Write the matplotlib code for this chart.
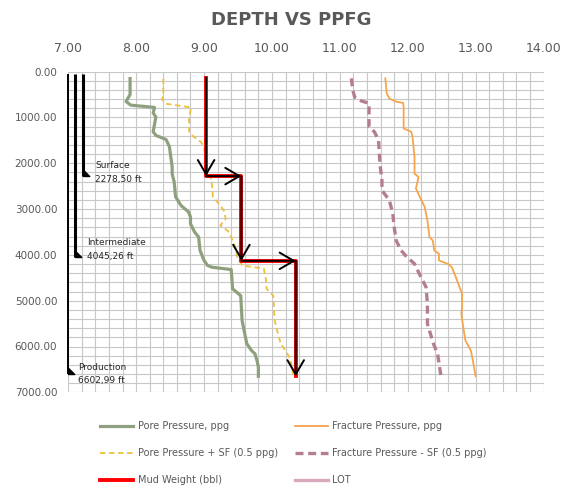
import numpy as np
import matplotlib
matplotlib.use("Agg")
import matplotlib.pyplot as plt
from matplotlib.path import Path
from matplotlib.ticker import MultipleLocator, FormatStrFormatter

# ── data (depth in ft, pressure in ppg) ──
pore_depth = [150, 500, 650, 730, 780, 900, 990, 1310, 1390, 1480, 1640, 1860,
              2080, 2230, 2410, 2730, 2850, 2920, 3060, 3170, 3320, 3500, 3610,
              3900, 4120, 4230, 4270, 4320, 4740, 4890, 5430, 5730, 5940, 6090,
              6160, 6310, 6450, 6650]
pore_ppg = [7.91, 7.91, 7.85, 7.92, 8.27, 8.25, 8.29, 8.25, 8.29, 8.44, 8.49, 8.51,
            8.53, 8.53, 8.56, 8.58, 8.63, 8.66, 8.77, 8.80, 8.80, 8.86, 8.92,
            8.94, 9.00, 9.05, 9.12, 9.40, 9.42, 9.54, 9.56, 9.60, 9.63, 9.70,
            9.75, 9.78, 9.80, 9.80]

pore_sf_depth = [150, 530, 600, 700, 780, 990, 1310, 1400, 1530, 1640, 2050, 2330,
                 2515, 2730, 2920, 3030, 3210, 3355, 3500, 3650, 3830, 4050, 4230,
                 4300, 4520, 4740, 4890, 5430, 5730, 5940, 6090, 6270, 6450, 6650]
pore_sf_ppg = [8.40, 8.40, 8.38, 8.44, 8.81, 8.78, 8.78, 8.83, 8.95, 9.00, 9.03, 9.10,
               9.12, 9.13, 9.24, 9.29, 9.32, 9.24, 9.37, 9.41, 9.46, 9.49, 9.56,
               9.88, 9.91, 9.92, 10.02, 10.04, 10.09, 10.13, 10.20, 10.27, 10.29, 10.32]

frac_depth = [145, 470, 585, 655, 680, 765, 1240, 1310, 1420, 1860, 2225, 2300,
              2550, 2770, 2955, 3245, 3610, 3685, 3900, 3975, 4120, 4210, 4270,
              4490, 4850, 5140, 5290, 5505, 5870, 6090, 6310, 6650]
frac_ppg = [11.67, 11.69, 11.73, 11.83, 11.93, 11.94, 11.94, 12.05, 12.07, 12.10, 12.10, 12.16,
            12.12, 12.19, 12.25, 12.29, 12.32, 12.37, 12.39, 12.46, 12.46, 12.61, 12.65,
            12.71, 12.80, 12.80, 12.79, 12.81, 12.85, 12.93, 12.96, 13.00]

frac_sf_depth = [145, 400, 560, 635, 690, 1205, 1315, 1495, 2005, 2370, 2590, 2810,
                 3100, 3390, 3685, 3900, 4050, 4195, 4410, 4705, 5070, 5505, 5945,
                 6160, 6650]
frac_sf_ppg = [11.17, 11.19, 11.22, 11.31, 11.43, 11.43, 11.51, 11.57, 11.59, 11.62, 11.62, 11.73,
               11.78, 11.80, 11.83, 11.90, 11.99, 12.10, 12.17, 12.27, 12.29, 12.29, 12.38,
               12.44, 12.49]

mud_depth = [130, 2280, 2280, 4130, 4130, 6650]
mud_ppg = [9.03, 9.03, 9.55, 9.55, 10.35, 10.35]

lot_depth = []
lot_ppg = []

casing_names = ["Surface", "Intermediate", "Production"]
casing_depth = [2278.50, 4045.26, 6602.99]

GREY = "#595959"

# ── figure ──────────────────────────────────────────────────
fig = plt.figure(figsize=(5.71, 4.91), dpi=100)
ax = fig.add_axes([68.3 / 571, 1 - 392.3 / 491, 475.2 / 571, 320.6 / 491])

ax.set_xlim(7, 14)
ax.set_ylim(7000, 0)
ax.xaxis.tick_top()
ax.xaxis.set_major_locator(MultipleLocator(1))
ax.xaxis.set_minor_locator(MultipleLocator(0.2))
ax.yaxis.set_major_locator(MultipleLocator(1000))
ax.yaxis.set_minor_locator(MultipleLocator(200))
ax.xaxis.set_major_formatter(FormatStrFormatter("%.2f"))
ax.yaxis.set_major_formatter(FormatStrFormatter("%.2f"))
ax.tick_params(which="both", length=0)
ax.tick_params(axis="x", pad=12, labelsize=9, colors=GREY)
ax.tick_params(axis="y", pad=8, labelsize=7.5, colors=GREY)
ax.grid(which="both", color="#C8C8C8", lw=0.8)
ax.set_axisbelow(True)
for s in ax.spines.values():
    s.set_visible(False)

# curves
l_pore, = ax.plot(pore_ppg, pore_depth, color="#8FA07E", lw=2.3, label="Pore Pressure, ppg")
l_pore_sf, = ax.plot(pore_sf_ppg, pore_sf_depth, color="#EEC03E", lw=1.3,
                     dashes=(3, 2), label="Pore Pressure + SF (0.5 ppg)")
l_frac, = ax.plot(frac_ppg, frac_depth, color="#F5A54C", lw=1.3, label="Fracture Pressure, ppg")
l_frac_sf, = ax.plot(frac_sf_ppg, frac_sf_depth, color="#B47E90", lw=2.4,
                     dashes=(2.4, 1.4), label="Fracture Pressure - SF (0.5 ppg)")
l_mud, = ax.plot(mud_ppg, mud_depth, color="#FF0000", lw=2.8, label="Mud Weight (bbl)", zorder=4)
l_lot, = ax.plot(lot_ppg, lot_depth, color="#D9AABD", lw=2.4, label="LOT")

# black arrows over the mud weight steps
for i in range(len(mud_ppg) - 1):
    ax.annotate("", xy=(mud_ppg[i + 1], mud_depth[i + 1]),
                xytext=(mud_ppg[i], mud_depth[i]),
                arrowprops=dict(arrowstyle="->,head_length=0.6,head_width=0.35",
                                color="black", lw=1.4, mutation_scale=17,
                                shrinkA=0, shrinkB=0),
                zorder=5)

# casing strings
tri = Path([(0, 0), (0, 1), (1, 0), (0, 0)])
casing_x = [7.21, 7.10, 7.00]
casing_lw = [2.2, 2.2, 1.4]
label_pos = [(7.40, 2200), (7.27, 3880), (7.14, 6600)]
for name, d, x, lw, (tx, ty) in zip(casing_names, casing_depth, casing_x, casing_lw, label_pos):
    ax.plot([x, x], [60, d], color="black", lw=lw, clip_on=False, zorder=3,
            solid_capstyle="butt")
    ax.plot([x], [d], marker=tri, ms=9, color="black", clip_on=False, zorder=3)
    ax.text(tx, ty, name + "\n" + f"{d:.2f}".replace(".", ",") + " ft",
            fontsize=6.5, color="#262626", va="center", ha="left", linespacing=1.6)

fig.text(0.51, 1 - 20 / 491, "DEPTH VS PPFG", ha="center", va="center",
         fontsize=13, fontweight="bold", color=GREY)

handles = [l_pore, l_pore_sf, l_mud, l_frac, l_frac_sf, l_lot]
fig.legend(handles=handles, labels=[h.get_label() for h in handles], ncol=2,
           loc="upper left", bbox_to_anchor=(100 / 571, 1 - 421 / 491),
           frameon=False, fontsize=7, labelcolor=GREY, handlelength=3.4,
           handletextpad=0.5, columnspacing=1.7, labelspacing=1.75,
           borderaxespad=0, borderpad=0)

fig.savefig("out.png", dpi=100)
